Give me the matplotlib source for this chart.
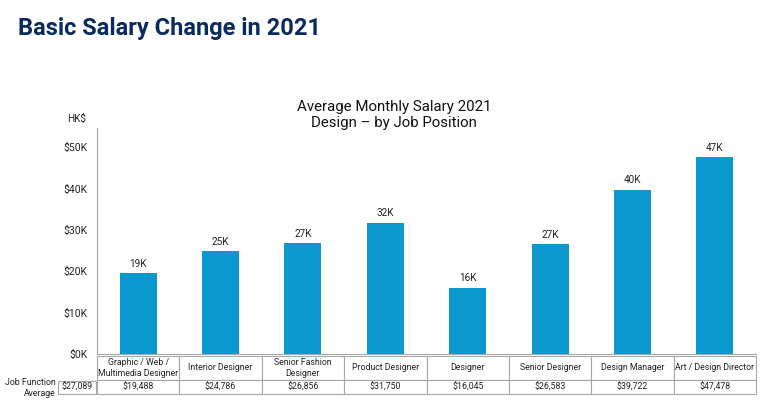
import matplotlib
matplotlib.use('Agg')
import matplotlib.pyplot as plt
from matplotlib.patches import Rectangle

plt.rcParams['font.family'] = ['Roboto', 'DejaVu Sans']

positions = ['Graphic / Web /\nMultimedia Designer', 'Interior Designer',
             'Senior Fashion\nDesigner', 'Product Designer', 'Designer',
             'Senior Designer', 'Design Manager', 'Art / Design Director']
salaries = [19488, 24786, 26856, 31750, 16045, 26583, 39722, 47478]
bar_labels = ['19K', '25K', '27K', '32K', '16K', '27K', '40K', '47K']
function_average = 27089
yticks = [0, 10000, 20000, 30000, 40000, 50000]
ytick_labels = ['$0K', '$10K', '$20K', '$30K', '$40K', '$50K']

BAR = '#0A98CE'
NAVY = '#0B2B5E'
GRID = '#A6A6A6'

W, H = 776, 409
fig = plt.figure(figsize=(W / 100, H / 100), dpi=100)
ax = fig.add_axes([97 / W, 1 - 354 / H, (756 - 97) / W, (354 - 128) / H])

x = range(len(salaries))
ax.bar(x, salaries, width=0.45, color=BAR)
for i, (v, lab) in enumerate(zip(salaries, bar_labels)):
    ax.text(i, v + 1000, lab, ha='center', va='bottom', fontsize=7.2, color='#222222')

ax.set_xlim(-0.5, len(salaries) - 0.5)
ax.set_ylim(0, 54600)
ax.set_yticks(yticks)
ax.set_yticklabels(ytick_labels, fontsize=7.5, color='#222222')
ax.set_xticks([])
ax.tick_params(axis='y', length=0, pad=7)
for s in ['top', 'right']:
    ax.spines[s].set_visible(False)
ax.spines['left'].set_color(GRID)
ax.spines['bottom'].set_color(GRID)

# table below the bars
tbl = ax.table(cellText=[['${:,}'.format(v) for v in salaries]],
               colLabels=positions, cellLoc='center',
               bbox=[0, -(394 - 354) / 226, 1, (394 - 356) / 226])
tbl.auto_set_font_size(False)
for (r, c), cell in tbl.get_celld().items():
    cell.set_edgecolor(GRID)
    cell.set_linewidth(0.8)
    cell.get_text().set_fontsize(6.3)
    cell.get_text().set_color('#222222')
    cell.set_height(24 if r == 0 else 14)

# job function average box
fig.add_artist(Rectangle((58 / W, 1 - 394 / H), 38 / W, 13 / H,
                         transform=fig.transFigure, fill=False,
                         edgecolor=GRID, linewidth=0.8))
fig.text(77 / W, 1 - 387.5 / H, '${:,}'.format(function_average), ha='center',
         va='center', fontsize=6.3, color='#222222')
fig.text(56 / W, 1 - 388 / H, 'Job Function\nAverage', ha='right', va='center',
         fontsize=6.3, color='#222222', linespacing=1.15)

fig.text(86 / W, 1 - 119 / H, 'HK$', ha='right', va='center', fontsize=7.2,
         color='#222222')
fig.text(394 / W, 1 - 115 / H, 'Average Monthly Salary 2021\nDesign \u2013 by Job Position',
         ha='center', va='center', fontsize=10.8, color='#111111', linespacing=1.2)
fig.text(18 / W, 1 - 28 / H, 'Basic Salary Change in 2021', ha='left', va='center',
         fontsize=17, fontweight='bold', color=NAVY)

fig.savefig('out.png', dpi=100)
